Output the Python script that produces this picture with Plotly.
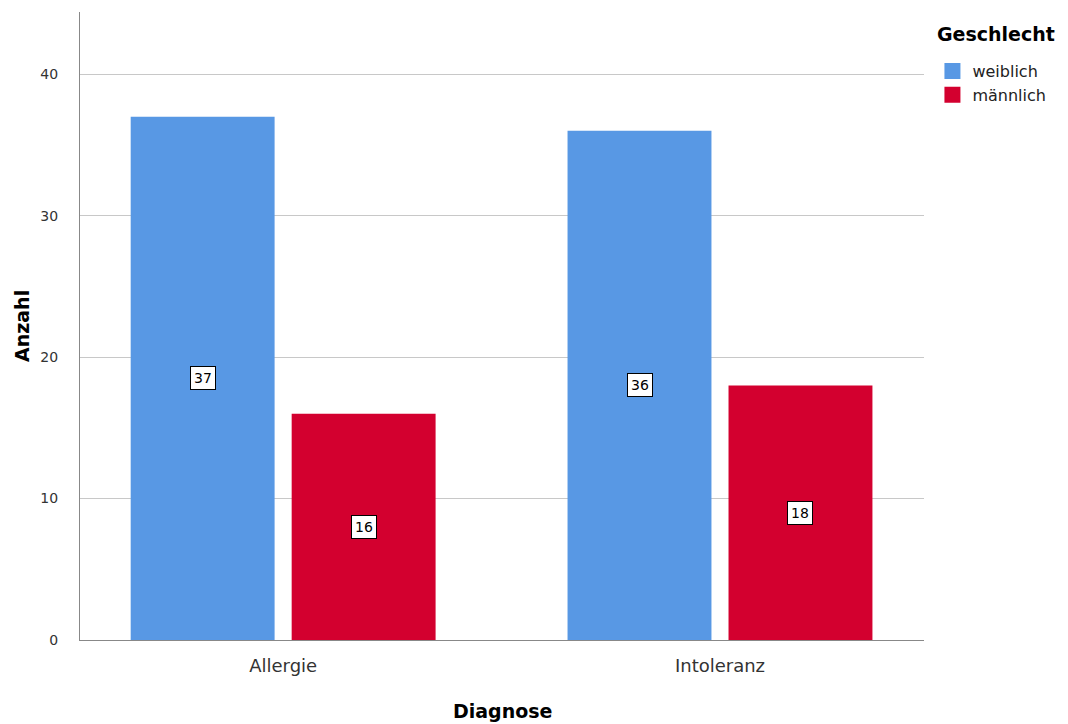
import plotly.graph_objects as go

categories = ["Allergie", "Intoleranz"]
series_names = ["weiblich", "männlich"]
weiblich = [37, 36]
maennlich = [16, 18]
colors = ["#5898e4", "#d3002f"]
y_ticks = [0, 10, 20, 30, 40]
legend_title = "Geschlecht"
x_title = "Diagnose"
y_title = "Anzahl"

font_family = "DejaVu Sans, Verdana, sans-serif"

fig = go.Figure()
for name, vals, col in zip(series_names, [weiblich, maennlich], colors):
    fig.add_trace(go.Bar(x=categories, y=vals, name=name, showlegend=False,
                         marker=dict(color=col, line=dict(width=0)),
                         hoverinfo="x+y+name"))
# legend entries with larger square symbols
for name, col in zip(series_names, colors):
    fig.add_trace(go.Scatter(x=[None], y=[None], mode="markers", name=name,
                             marker=dict(symbol="square", size=16, color=col)))

offset = 0.184
for i, cat in enumerate(categories):
    for j, vals in enumerate([weiblich, maennlich]):
        fig.add_annotation(x=i + (-offset if j == 0 else offset), y=vals[i] / 2,
                           xref="x", yref="y", text=str(vals[i]), showarrow=False,
                           font=dict(size=14, color="black", family=font_family),
                           bgcolor="white", bordercolor="black", borderwidth=1,
                           borderpad=3)

fig.add_annotation(xref="paper", yref="paper", x=1.0, y=1.0, xshift=11, yshift=-22,
                   xanchor="left", yanchor="middle", showarrow=False,
                   text="<b>" + legend_title + "</b>",
                   font=dict(size=19, color="black", family=font_family))
fig.add_annotation(xref="paper", yref="paper", x=0.5, y=0, yshift=-71,
                   xanchor="center", yanchor="middle", showarrow=False,
                   text="<b>" + x_title + "</b>",
                   font=dict(size=19, color="black", family=font_family))
fig.add_annotation(xref="paper", yref="paper", x=0, y=0.5, xshift=-58,
                   xanchor="center", yanchor="middle", showarrow=False, textangle=-90,
                   text="<b>" + y_title + "</b>",
                   font=dict(size=19, color="black", family=font_family))

fig.update_layout(
    width=1060, height=716,
    margin=dict(l=72, r=144, t=4, b=84),
    paper_bgcolor="white", plot_bgcolor="white",
    barmode="group", bargap=0.263, bargroupgap=0.106,
    font=dict(family=font_family, color="black"),
    showlegend=True,
    legend=dict(x=1.01, y=0.933, xanchor="left", yanchor="top",
                font=dict(size=16, color="#222222"), tracegroupgap=0, itemwidth=30),
    xaxis=dict(range=[-0.465, 1.467], showline=True, linecolor="#888888", linewidth=1,
               tickfont=dict(size=18, color="#333333"), ticks="", ticklabelstandoff=9,
               showgrid=False, zeroline=False),
    yaxis=dict(range=[0, 44.4], tickvals=y_ticks, showline=True, linecolor="#888888",
               linewidth=1, showgrid=True, gridcolor="#c8c8c8", gridwidth=1,
               tickfont=dict(size=14, color="#333333"), ticks="", ticklabelstandoff=18,
               zeroline=False),
)

fig.write_html("out.html")
